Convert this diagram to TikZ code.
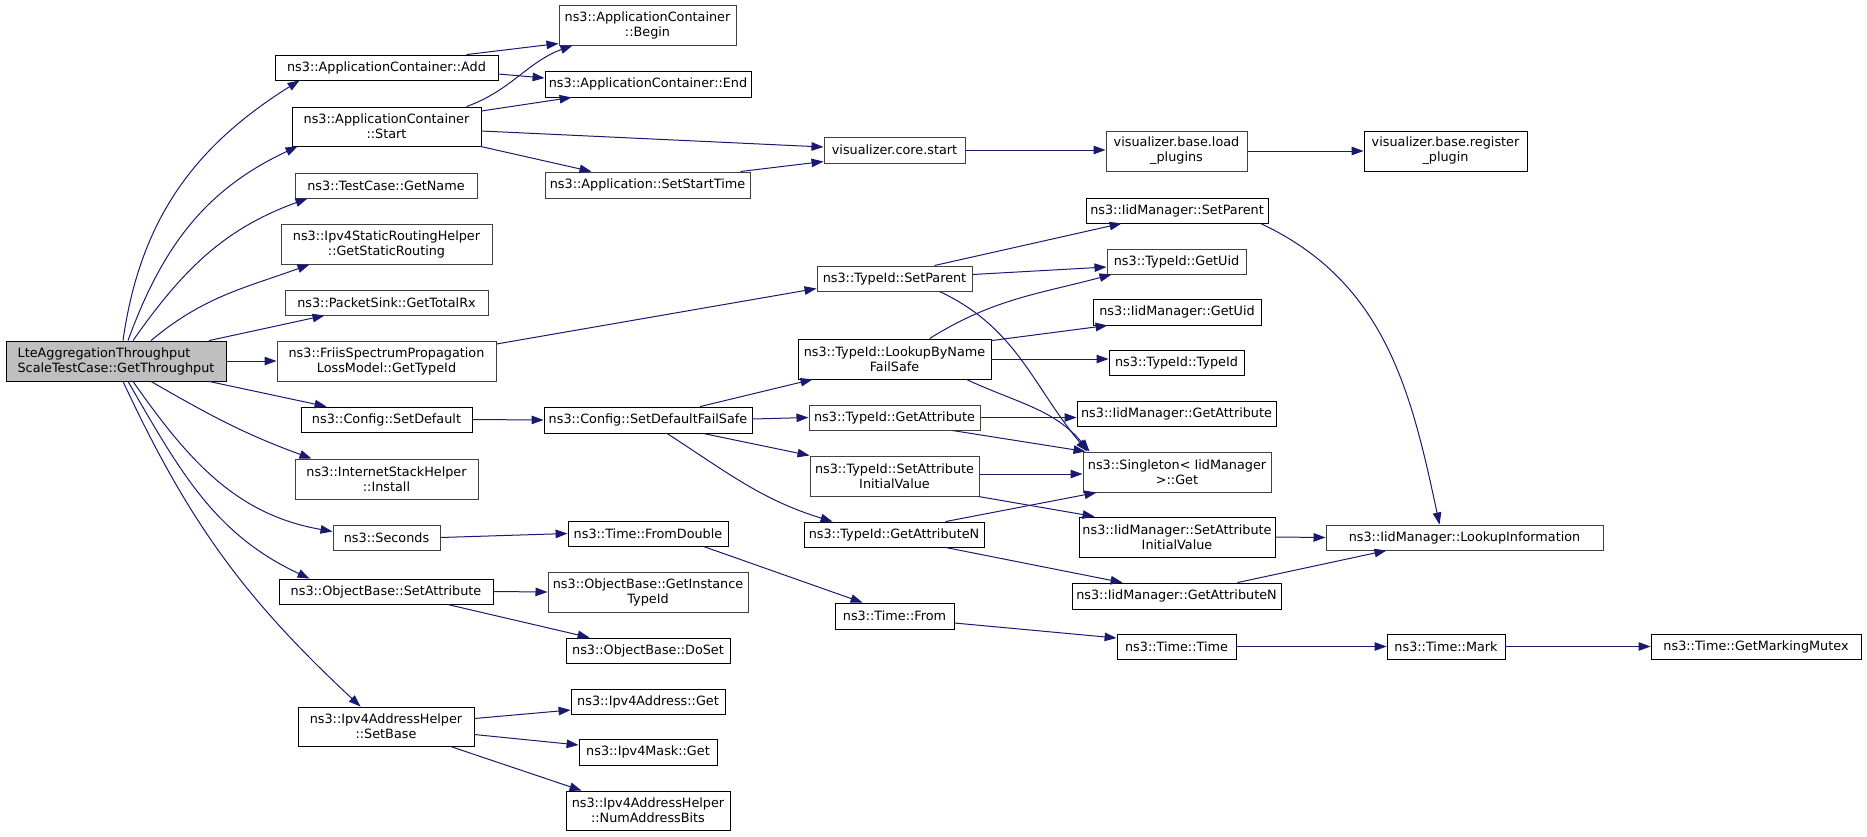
\documentclass[tikz,border=0pt]{standalone}
\usepackage{fontspec}
\setmainfont{DejaVu Sans}
\usetikzlibrary{arrows.meta}
\definecolor{edgec}{HTML}{191970}
\definecolor{rootfill}{HTML}{BFBFBF}
\definecolor{bordg}{HTML}{404040}
\tikzset{
  box/.style={draw=black,line width=0.85pt,inner sep=0pt,align=center,rectangle,
    font=\fontsize{12.8}{15}\selectfont},
  boxg/.style={box,draw=bordg,line width=1pt},
  rootbox/.style={box,fill=rootfill,align=left},
  edge/.style={draw=edgec,line width=1pt,-{Triangle[length=12pt,width=8.5pt]}},
}
\newcommand\bx[7][box]{\node[#1,minimum width=#5pt-#3pt,minimum height=#6pt-#4pt] (#2) at ({(#3+#5)/2},{-(#4+#6)/2}) {#7};}
\begin{document}
\begin{tikzpicture}[x=1pt,y=1pt]
\useasboundingbox (0,0) rectangle (1867,-836);
\bx[rootbox]{root}{6}{341}{226}{381}{LteAggregationThroughput\\ScaleTestCase::GetThroughput}
\bx{add}{275}{55}{498}{80}{ns3::ApplicationContainer::Add}
\bx{start}{292}{107}{481}{146}{ns3::ApplicationContainer\\::Start}
\bx[boxg]{getname}{295}{173}{477}{198}{ns3::TestCase::GetName}
\bx[boxg]{ipsr}{281}{224}{492}{264}{ns3::Ipv4StaticRoutingHelper\\::GetStaticRouting}
\bx[boxg]{psink}{285}{290}{488}{315}{ns3::PacketSink::GetTotalRx}
\bx[boxg]{friis}{277}{341}{496}{381}{ns3::FriisSpectrumPropagation\\LossModel::GetTypeId}
\bx{setdef}{301}{407}{472}{432}{ns3::Config::SetDefault}
\bx[boxg]{ish}{295}{459}{478}{499}{ns3::InternetStackHelper\\::Install}
\bx[boxg]{seconds}{333}{525}{440}{550}{ns3::Seconds}
\bx{os}{279}{579}{493}{604}{ns3::ObjectBase::SetAttribute}
\bx{sb}{298}{707}{474}{746}{ns3::Ipv4AddressHelper\\::SetBase}
\bx[boxg]{begin}{559}{5}{736}{45}{ns3::ApplicationContainer\\::Begin}
\bx{end}{545}{71}{751}{97}{ns3::ApplicationContainer::End}
\bx[boxg]{core}{824}{137}{965}{163}{visualizer.core.start}
\bx[boxg]{sst}{545}{172}{750}{198}{ns3::Application::SetStartTime}
\bx[boxg]{tsp}{817}{266}{972}{291}{ns3::TypeId::SetParent}
\bx{lbn}{798}{339}{991}{379}{ns3::TypeId::LookupByName\\FailSafe}
\bx{sdfs}{544}{407}{752}{433}{ns3::Config::SetDefaultFailSafe}
\bx[boxg]{tga}{809}{405}{980}{430}{ns3::TypeId::GetAttribute}
\bx[boxg]{tsaiv}{810}{456}{979}{496}{ns3::TypeId::SetAttribute\\InitialValue}
\bx{tgan}{804}{522}{984}{547}{ns3::TypeId::GetAttributeN}
\bx{fd}{568}{521}{728}{546}{ns3::Time::FromDouble}
\bx[boxg]{git}{548}{572}{748}{612}{ns3::ObjectBase::GetInstance\\TypeId}
\bx{doset}{566}{638}{730}{663}{ns3::ObjectBase::DoSet}
\bx{tf}{835}{603}{954}{629}{ns3::Time::From}
\bx{iag}{571}{689}{725}{714}{ns3::Ipv4Address::Get}
\bx{img}{579}{739}{717}{765}{ns3::Ipv4Mask::Get}
\bx{nab}{566}{791}{730}{830}{ns3::Ipv4AddressHelper\\::NumAddressBits}
\bx[boxg]{load}{1106}{131}{1247}{171}{visualizer.base.load\\\_plugins}
\bx{reg}{1364}{131}{1527}{171}{visualizer.base.register\\\_plugin}
\bx{isp}{1086}{198}{1268}{223}{ns3::IidManager::SetParent}
\bx[boxg]{tgu}{1107}{249}{1246}{274}{ns3::TypeId::GetUid}
\bx{igu}{1093}{299}{1261}{325}{ns3::IidManager::GetUid}
\bx{tti}{1109}{350}{1244}{375}{ns3::TypeId::TypeId}
\bx{iga}{1077}{401}{1276}{426}{ns3::IidManager::GetAttribute}
\bx[boxg]{sing}{1083}{452}{1271}{492}{ns3::Singleton< IidManager\\>::Get}
\bx{isaiv}{1079}{517}{1275}{557}{ns3::IidManager::SetAttribute\\InitialValue}
\bx{igan}{1072}{583}{1281}{609}{ns3::IidManager::GetAttributeN}
\bx[boxg]{li}{1326}{525}{1603}{550}{ns3::IidManager::LookupInformation}
\bx{tt}{1117}{634}{1236}{659}{ns3::Time::Time}
\bx{mark}{1387}{634}{1505}{659}{ns3::Time::Mark}
\bx{gmm}{1651}{634}{1861}{659}{ns3::Time::GetMarkingMutex}
% root edges
\draw[edge] ([xshift=7pt]root.north) to[out=82,in=212] ([xshift=25pt]add.south west);
\draw[edge] ([xshift=12pt]root.north) to[out=70,in=205] ([xshift=6pt]start.south west);
\draw[edge] ([xshift=17pt]root.north) to[out=55,in=200] ([xshift=13pt]getname.south west);
\draw[edge] ([xshift=35pt]root.north) to[out=40,in=200] ([xshift=29pt]ipsr.south west);
\draw[edge] ([xshift=93pt]root.north) -- ([xshift=40pt]psink.south west);
\draw[edge] (root.east) -- (friis.west);
\draw[edge] ([xshift=93pt]root.south) -- ([xshift=26pt]setdef.north west);
\draw[edge] ([xshift=35pt]root.south) to[out=-30,in=160] ([xshift=17pt]ish.north west);
\draw[edge] ([xshift=17pt]root.south) to[out=-55,in=170] ([yshift=6pt]seconds.west);
\draw[edge] ([xshift=12pt]root.south) to[out=-60,in=155] ([xshift=31pt]os.north west);
\draw[edge] ([xshift=7pt]root.south) to[out=-65,in=137] ([xshift=63pt]sb.north west);
% application container
\draw[edge] ([xshift=80pt]add.north) -- ([yshift=2pt]begin.south west);
\draw[edge] ([yshift=-6.5pt]add.east) -- ([yshift=6pt]end.west);
\draw[edge] ([xshift=80pt]start.north) to[out=20,in=200] ([xshift=14pt]begin.south west);
\draw[edge] ([yshift=15.5pt]start.east) -- ([xshift=27pt]end.south west);
\draw[edge] ([yshift=-4.5pt]start.east) -- ([yshift=3pt]core.west);
\draw[edge] ([xshift=-1pt]start.south east) -- ([xshift=47pt]sst.north west);
\draw[edge] ([xshift=-10pt]sst.north east) -- ([yshift=2pt]core.south west);
\draw[edge] (core.east) -- (core.east -| load.west);
\draw[edge] (load.east) -- (reg.west);
% type id
\draw[edge] ([yshift=17pt]friis.east) -- ([yshift=3pt]tsp.south west);
\draw[edge] ([xshift=40pt]tsp.north) -- ([xshift=36pt]isp.south west);
\draw[edge] ([yshift=4pt]tsp.east) -- ([yshift=-5.5pt]tgu.west);
\draw[edge] ([xshift=45pt]tsp.south) to[out=-25,in=130] ([xshift=5pt]sing.north west);
\draw[edge] ([xshift=35pt]lbn.north) to[out=32,in=195] ([xshift=5pt]tgu.south west);
\draw[edge] ([yshift=-2pt]lbn.north east) -- ([xshift=15pt]igu.south west);
\draw[edge] (lbn.east) -- (lbn.east -| tti.west);
\draw[edge] ([xshift=-25pt]lbn.south east) to[out=-25,in=130] ([xshift=7pt]sing.north west);
\draw[edge] (tga.east) -- (tga.east -| iga.west);
\draw[edge] ([xshift=-28pt]tga.south east) -- ([xshift=3pt]sing.north west);
\draw[edge] ([xshift=52pt]sdfs.north) -- ([xshift=15pt]lbn.south west);
\draw[edge] ([yshift=1pt]sdfs.east) -- (tga.west);
\draw[edge] ([xshift=55pt]sdfs.south) -- (tsaiv.north west);
\draw[edge] ([xshift=19pt]sdfs.south) to[out=-33,in=163] ([xshift=29pt]tgan.north west);
\draw[edge] (setdef.east) -- (sdfs.west);
\draw[edge] ([yshift=2pt]tsaiv.east) -- ([yshift=-2pt]sing.west);
\draw[edge] ([xshift=-1pt]tsaiv.south east) -- ([xshift=16pt]isaiv.north west);
\draw[edge] ([xshift=-39pt]tgan.north east) -- ([xshift=14pt]sing.south west);
\draw[edge] ([xshift=-39pt]tgan.south east) -- ([xshift=51pt]igan.north west);
\draw[edge] ([xshift=-8pt]isp.south east) to[out=-25,in=102] ([xshift=114pt]li.north west);
\draw[edge] (isaiv.east) -- (li.west);
\draw[edge] ([xshift=-44pt]igan.north east) -- ([xshift=61pt]li.south west);
% time
\draw[edge] (seconds.east) -- (fd.west);
\draw[edge] ([xshift=-25pt]fd.south east) -- ([xshift=28pt]tf.north west);
\draw[edge] ([yshift=-7pt]tf.east) -- ([yshift=8.5pt]tt.west);
\draw[edge] (tt.east) -- (mark.west);
\draw[edge] (mark.east) -- (gmm.west);
% object base
\draw[edge] (os.east) -- (git.west);
\draw[edge] ([xshift=-46pt]os.south east) -- ([xshift=24pt]doset.north west);
% ipv4 address helper
\draw[edge] ([yshift=8pt]sb.east) -- ([yshift=-8.5pt]iag.west);
\draw[edge] ([yshift=-8pt]sb.east) -- ([yshift=7pt]img.west);
\draw[edge] ([xshift=-24pt]sb.south east) -- ([xshift=16pt]nab.north west);
\end{tikzpicture}
\end{document}
